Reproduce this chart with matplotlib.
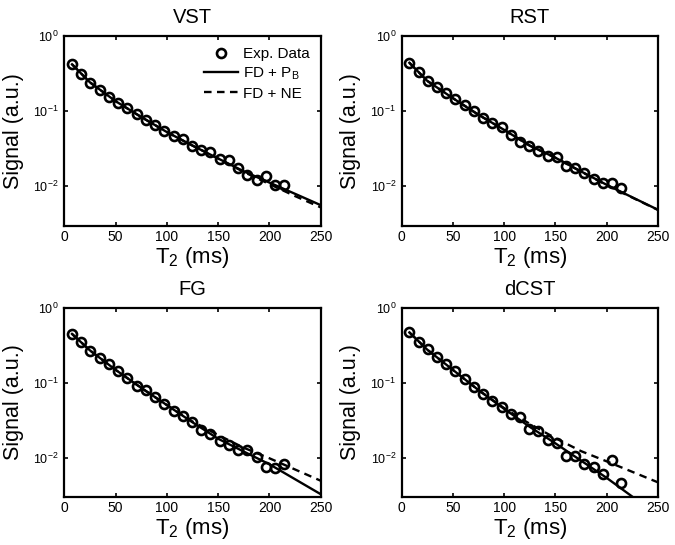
import matplotlib
matplotlib.use("Agg")
import matplotlib.pyplot as plt
from matplotlib.ticker import FixedLocator, NullLocator, FixedFormatter

plt.rcParams['font.family'] = ['Liberation Sans', 'DejaVu Sans']
plt.rcParams['mathtext.fontset'] = 'custom'
plt.rcParams['mathtext.rm'] = 'Liberation Sans'
plt.rcParams['mathtext.it'] = 'Liberation Sans'
plt.rcParams['mathtext.default'] = 'regular'

# ---- data ----
panel_titles = ["VST", "RST", "FG", "dCST"]

echo_times = [7.5, 16.5, 25.5, 34.5, 43.5, 52.5, 61.5, 70.5, 79.5, 88.5, 97.5, 106.5,
              115.5, 124.5, 133.5, 142.5, 151.5, 160.5, 169.5, 178.5, 187.5, 196.5,
              205.5, 214.5]

vst_data = [0.417, 0.310, 0.238, 0.190, 0.155, 0.129, 0.108, 0.0912, 0.0759, 0.0652,
            0.0542, 0.0466, 0.0421, 0.0343, 0.0303, 0.0288, 0.0228, 0.0224, 0.0177,
            0.0141, 0.0121, 0.0137, 0.0104, 0.0104]
rst_data = [0.438, 0.327, 0.253, 0.210, 0.175, 0.144, 0.120, 0.101, 0.0815, 0.0686,
            0.0607, 0.0480, 0.0391, 0.0343, 0.0297, 0.0250, 0.0245, 0.0188, 0.0173,
            0.0152, 0.0124, 0.0110, 0.0110, 0.0096]
fg_data = [0.447, 0.346, 0.268, 0.216, 0.178, 0.141, 0.115, 0.0910, 0.0788, 0.0643,
           0.0524, 0.0414, 0.0363, 0.0296, 0.0231, 0.0209, 0.0165, 0.0145, 0.0128,
           0.0128, 0.0102, 0.0075, 0.0073, 0.0081]
dcst_data = [0.470, 0.353, 0.279, 0.223, 0.178, 0.141, 0.112, 0.0864, 0.0712, 0.0574,
             0.0473, 0.0385, 0.0345, 0.0241, 0.0224, 0.0170, 0.0154, 0.0104, 0.0104,
             0.0083, 0.0075, 0.0060, 0.0092, 0.0046]

fit_times = [7.5, 25, 50, 75, 100, 125, 150, 175, 200, 225, 250]

vst_pb = [0.417, 0.240, 0.135, 0.0832, 0.0525, 0.0347, 0.0234, 0.0158, 0.0112, 0.00794, 0.00562]
vst_ne = [0.417, 0.240, 0.135, 0.0832, 0.0525, 0.0347, 0.0234, 0.0155, 0.0107, 0.00741, 0.00525]
rst_pb = [0.437, 0.251, 0.148, 0.0891, 0.0562, 0.0347, 0.0240, 0.0158, 0.0105, 0.00716, 0.00490]
rst_ne = [0.437, 0.251, 0.148, 0.0891, 0.0562, 0.0347, 0.0240, 0.0157, 0.0104, 0.00710, 0.00487]
fg_pb = [0.447, 0.269, 0.148, 0.0851, 0.0501, 0.0295, 0.0178, 0.0120, 0.00813, 0.00513, 0.00324]
fg_ne = [0.447, 0.269, 0.148, 0.0851, 0.0501, 0.0302, 0.0200, 0.0135, 0.00977, 0.00692, 0.00490]
dcst_pb = [0.468, 0.275, 0.148, 0.0794, 0.0447, 0.0257, 0.0155, 0.00912, 0.00537, 0.00302, 0.00162]
dcst_ne = [0.468, 0.275, 0.148, 0.0794, 0.0457, 0.0282, 0.0182, 0.0122, 0.00891, 0.00646, 0.00468]

exp_series = [vst_data, rst_data, fg_data, dcst_data]
pb_series = [vst_pb, rst_pb, fg_pb, dcst_pb]
ne_series = [vst_ne, rst_ne, fg_ne, dcst_ne]

x_ticks = [0, 50, 100, 150, 200, 250]
y_ticks = [1e-2, 1e-1, 1e0]
y_ticklabels = [r'$10^{-2}$', r'$10^{-1}$', r'$10^{0}$']

legend_labels = ["Exp. Data", r"FD + P$_{B}$", "FD + NE"]

# ---- figure ----
fig = plt.figure(figsize=(6.75, 5.45), dpi=100)
positions = [
    [0.0953, 0.5859, 0.3799, 0.3486],
    [0.5951, 0.5859, 0.3793, 0.3486],
    [0.0953, 0.0886, 0.3799, 0.3468],
    [0.5951, 0.0886, 0.3793, 0.3468],
]

for i in range(4):
    ax = fig.add_axes(positions[i])
    h_exp, = ax.plot(echo_times, exp_series[i], linestyle='none', marker='o',
                     markersize=6.5, markerfacecolor='none', markeredgecolor='black',
                     markeredgewidth=1.9, label=legend_labels[0], zorder=3)
    h_pb, = ax.plot(fit_times, pb_series[i], color='black', linewidth=1.7,
                    label=legend_labels[1], zorder=2)
    h_ne, = ax.plot(fit_times, ne_series[i], color='black', linewidth=1.7,
                    linestyle=(0, (3.2, 2.3)), label=legend_labels[2], zorder=2)
    ax.set_yscale('log')
    ax.set_xlim(0, 250)
    ax.set_ylim(3e-3, 1)
    ax.xaxis.set_major_locator(FixedLocator(x_ticks))
    ax.yaxis.set_major_locator(FixedLocator(y_ticks))
    ax.yaxis.set_major_formatter(FixedFormatter(y_ticklabels))
    ax.yaxis.set_minor_locator(NullLocator())
    ax.xaxis.set_minor_locator(NullLocator())
    ax.tick_params(axis='both', which='major', direction='in', length=3, width=1.2,
                   top=True, right=True)
    ax.tick_params(axis='x', labelsize=10, pad=3)
    ax.tick_params(axis='y', labelsize=9, pad=4)
    for sp in ax.spines.values():
        sp.set_linewidth(1.6)
    ax.set_title(panel_titles[i], fontsize=14.5, pad=9)
    ax.set_xlabel(r'T$_{2}$ (ms)', fontsize=16)
    ax.set_ylabel('Signal (a.u.)', fontsize=15.5)
    ax.xaxis.set_label_coords(0.5, -0.1)
    ax.yaxis.set_label_coords(-0.158, 0.5)
    if i == 0:
        ax.legend(handles=[h_exp, h_pb, h_ne], loc='upper right', frameon=False,
                  fontsize=11, handlelength=2.2, handletextpad=0.3,
                  labelspacing=0.3, borderaxespad=0.55, borderpad=0.2)

fig.savefig('out.png', dpi=100)
